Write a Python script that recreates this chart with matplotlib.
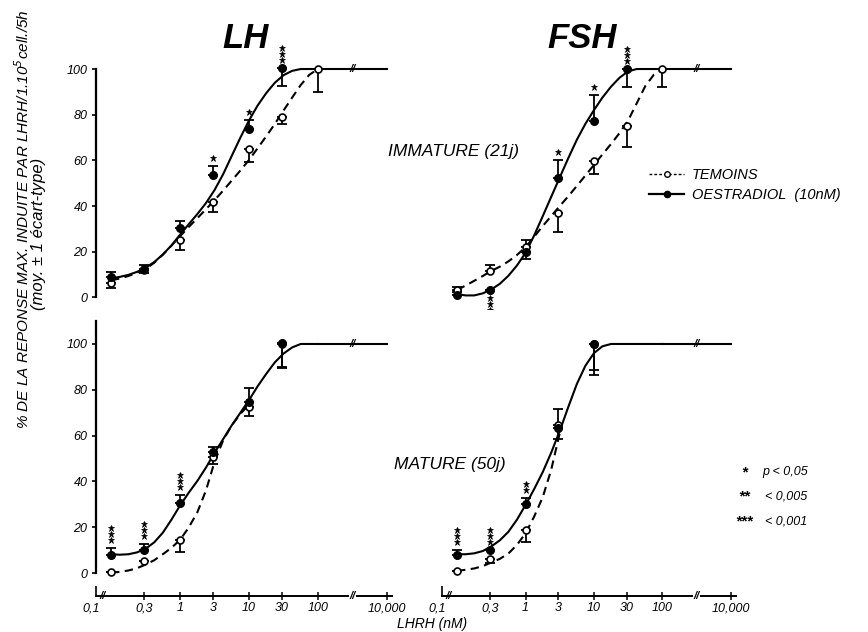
import numpy as np
import matplotlib
matplotlib.use("Agg")
import matplotlib.pyplot as plt
from matplotlib.lines import Line2D
from matplotlib.transforms import offset_copy

plt.rcParams['font.family'] = ['Liberation Sans', 'DejaVu Sans']
plt.rcParams['font.style'] = 'italic'

# ---------------- data ----------------
TICK_X = [0.1, 0.3, 1, 3, 10, 30, 100, 10000]
TICK_LABELS = ["0,1", "0,3", "1", "3", "10", "30", "100", "10,000"]
CURVE_X = [0.1, 0.133, 0.178, 0.237, 0.316, 0.422, 0.562, 0.75, 1, 1.33, 1.78, 2.37,
           3.16, 4.22, 5.62, 7.5, 10, 13.3, 17.8, 23.7, 31.6, 42.2, 56.2, 75, 100]
PLATEAU_X = [100, 10000]
PLATEAU_Y = [100, 100]

# LH immature (21 j)
lh_imm_oe_x = [0.1, 0.3, 1, 3, 10, 30]
lh_imm_oe_y = [8.8, 12.3, 30.4, 53.7, 73.6, 100.5]
lh_imm_oe_lo = [0, 0, 0, 0, 0, 8]
lh_imm_oe_hi = [2.5, 2, 3, 4, 4, 0]
lh_imm_oe_stars = [0, 0, 0, 1, 1, 3]
lh_imm_te_x = [0.1, 0.3, 1, 3, 10, 30, 100]
lh_imm_te_y = [6.5, 12, 25, 42, 65, 79, 100]
lh_imm_te_lo = [2.5, 1.5, 4, 4.5, 5.5, 3, 10]
lh_imm_te_hi = [0, 0, 0, 0, 0, 0, 0]
lh_imm_oe_curve = [8.4, 9.0, 9.9, 11.2, 13.0, 15.5, 18.8, 22.8, 27.5, 32.0, 36.5, 41.3,
                   47, 54, 62, 70, 77.5, 84, 89.5, 94, 97.3, 99.2, 100, 100, 100]
lh_imm_te_curve = [7.5, 8.3, 9.4, 10.8, 12.5, 15.2, 18.7, 22.7, 26.8, 30.8, 34.7, 38.6,
                   42.6, 46.8, 51.2, 55.6, 60.2, 65.3, 70.6, 76, 81.8, 87.5, 93, 97.5, 100]

# FSH immature (21 j)
fsh_imm_oe_x = [0.1, 0.3, 1, 3, 10, 30]
fsh_imm_oe_y = [0.9, 3.3, 20, 52.3, 77.4, 100]
fsh_imm_oe_lo = [0, 0, 3.2, 0, 0, 8]
fsh_imm_oe_hi = [1.5, 0, 0, 8, 11.4, 0]
fsh_imm_oe_stars = [0, -3, 0, 1, 1, 3]
fsh_imm_te_x = [0.1, 0.3, 1, 3, 10, 30, 100]
fsh_imm_te_y = [3.3, 11.4, 22.2, 37.1, 59.6, 75.2, 100]
fsh_imm_te_lo = [0, 0, 0, 8.3, 5.4, 9.2, 8]
fsh_imm_te_hi = [1.5, 2.6, 2.8, 0, 0, 0, 0]
fsh_imm_oe_curve = [1.5, 0.9, 0.9, 1.8, 3.5, 6, 9.5, 14, 19.5, 27, 35.5, 44,
                    52.5, 61, 69, 76, 82, 87.5, 92.3, 96.2, 99, 100, 100, 100, 100]
fsh_imm_te_curve = [3.3, 5.2, 7.3, 9.4, 11.6, 13.5, 15.8, 18.6, 22, 26.5, 31.2, 35.6,
                    40, 44.3, 48.8, 53.4, 58, 62.6, 67.2, 72, 77.5, 85, 92.5, 97.5, 99.8]

# LH mature (50 j)
lh_mat_oe_x = [0.1, 0.3, 1, 3, 10, 30]
lh_mat_oe_y = [7.9, 10, 30.4, 52.7, 74.8, 100.5]
lh_mat_oe_lo = [0, 0, 0, 0, 0, 11]
lh_mat_oe_hi = [3, 2.7, 3.6, 2.5, 6, 0]
lh_mat_oe_stars = [3, 3, 3, 0, 0, 0]
lh_mat_te_x = [0.1, 0.3, 1, 3, 10, 30]
lh_mat_te_y = [0.3, 5.4, 14.4, 50.5, 72.4, 100]
lh_mat_te_lo = [0, 0, 5.4, 3, 3.7, 10]
lh_mat_te_hi = [0, 0, 0, 0, 0, 0]
lh_mat_oe_curve = [8.2, 8.0, 8.2, 9.0, 10.6, 13.4, 17.6, 23.3, 29.5, 35, 40.2, 46,
                   52.5, 58.5, 64.5, 70, 75.5, 81.5, 87, 92, 95.8, 98.5, 100, 100, 100]
lh_mat_te_curve = [0.2, 0.5, 1.1, 2.1, 3.7, 5.6, 8.2, 11, 14.5, 19.8, 26.5, 36,
                   48.5, 58, 64.5, 69.5, 73.5]

# FSH mature (50 j)
fsh_mat_oe_x = [0.1, 0.3, 1, 3, 10]
fsh_mat_oe_y = [7.9, 10, 30, 63.5, 100]
fsh_mat_oe_lo = [0, 0, 0, 5, 13.5]
fsh_mat_oe_hi = [2, 0, 2.6, 0, 0]
fsh_mat_oe_stars = [3, 3, 2, 0, 0]
fsh_mat_te_x = [0.1, 0.3, 1, 3, 10]
fsh_mat_te_y = [1, 6, 19, 64.6, 100]
fsh_mat_te_lo = [0, 1.6, 5.3, 0, 11.4]
fsh_mat_te_hi = [0, 0, 0, 7, 0]
fsh_mat_oe_curve = [8.2, 8.2, 8.6, 9.6, 11.6, 14.3, 18, 23.3, 29.7, 36.5, 44, 52.5,
                    62, 72.5, 82.5, 90.5, 96, 99, 100, 100, 100, 100, 100, 100, 100]
fsh_mat_te_curve = [1, 1.4, 2, 3, 4.6, 6.2, 8.5, 12.3, 17.3, 24.5, 33, 45, 61]


# ---------------- scale: log up to 100, compressed break to 10,000 ----------------
def fwd(x):
    x = np.asarray(x, dtype=float)
    lx = np.log10(np.clip(x, 1e-9, None))
    return np.where(lx <= 2, lx, 2 + (lx - 2) / 2)


def inv(p):
    p = np.asarray(p, dtype=float)
    return np.where(p <= 2, 10 ** p, 10 ** (2 + (p - 2) * 2))


W, H = 868, 632
fig = plt.figure(figsize=(W / 100, H / 100), dpi=100)

XLIM = (0.06, 14000)
left_col = (95.8 / W, (392 - 95.8) / W)
right_col = (441.9 / W, (735.8 - 441.9) / W)
top_row = ((H - 308.9) / H, (308.9 - 41.6) / H, (-5, 112))
bot_row = ((H - 605.1) / H, (605.1 - 316.5) / H, (-14, 112))

LW = 1.5
DASH = (0, (4, 2.6))


def make_ax(col, row):
    ax = fig.add_axes([col[0], row[0], col[1], row[1]])
    ax.set_xscale('function', functions=(fwd, inv))
    ax.set_xlim(*XLIM)
    ax.set_ylim(*row[2])
    ax.patch.set_alpha(0)
    for s in ax.spines.values():
        s.set_visible(False)
    ax.set_xticks([])
    ax.set_yticks([])
    return ax


def draw_panel(ax, oe_x, oe_y, oe_lo, oe_hi, oe_stars, te_x, te_y, te_lo, te_hi,
               oe_curve, te_curve):
    ax.plot(CURVE_X[:len(oe_curve)], oe_curve, color='black', lw=LW, zorder=2,
            solid_joinstyle='round')
    ax.plot(CURVE_X[:len(te_curve)], te_curve, color='black', lw=LW, ls=DASH, zorder=2)
    ax.plot(PLATEAU_X, PLATEAU_Y, color='black', lw=LW, zorder=2)
    ax.text(1000, 100, '//', ha='center', va='center', fontsize=8, fontweight='bold',
            zorder=4)
    ax.errorbar(oe_x, oe_y, yerr=[oe_lo, oe_hi], fmt='none', ecolor='black',
                elinewidth=1.3, capsize=3.5, capthick=1.3, zorder=3)
    ax.errorbar(te_x, te_y, yerr=[te_lo, te_hi], fmt='none', ecolor='black',
                elinewidth=1.3, capsize=3.5, capthick=1.3, zorder=3)
    ax.plot(te_x, te_y, 'o', ms=5, mfc='white', mec='black', mew=1.2, zorder=5)
    ax.plot(oe_x, oe_y, 'o', ms=5.5, mfc='black', mec='black', zorder=6)
    for x, y, hi, lo, n in zip(oe_x, oe_y, oe_hi, oe_lo, oe_stars):
        if n > 0:
            ys = [y + hi + 3.5 + 2.6 * k for k in range(n)]
        elif n < 0:
            ys = [y - lo - 3.5 - 2.6 * k for k in range(-n)]
        else:
            continue
        ax.plot([x] * len(ys), ys, '*', ms=4.5, color='black', mec='black', mew=0.5,
                ls='none', zorder=6)


def style_y(ax, top):
    ax.spines['left'].set_visible(True)
    ax.spines['left'].set_linewidth(1.6)
    ax.spines['left'].set_bounds(0, top)
    ax.set_yticks([0, 20, 40, 60, 80, 100])
    ax.set_yticklabels(['0', '20', '40', '60', '80', '100'], fontsize=9, style='italic')
    ax.tick_params(axis='y', direction='out', length=3, width=1.2, pad=3)


def style_x(ax):
    ax.spines['bottom'].set_visible(True)
    ax.spines['bottom'].set_position(('data', -10))
    ax.spines['bottom'].set_linewidth(1.4)
    ax.set_xticks(TICK_X)
    ax.set_xticklabels(TICK_LABELS, fontsize=9, style='italic')
    ax.tick_params(axis='x', direction='inout', length=6, width=1.1, pad=1.5)
    ax.set_xticks([XLIM[0]], minor=True)
    ax.tick_params(axis='x', which='minor', direction='in', length=7, width=1.2)
    ticks = ax.xaxis.get_major_ticks()
    ticks[0].tick1line.set_markersize(0)
    lab = ticks[0].label1
    lab.set_transform(offset_copy(lab.get_transform(), fig=fig, x=-20, y=0, units='dots'))
    ax.text(0.075, -10, '//', ha='center', va='center', fontsize=8, fontweight='bold')
    ax.text(1000, -10, '//', ha='center', va='center', fontsize=8, fontweight='bold',
            bbox=dict(facecolor='white', edgecolor='none', pad=0.3))


ax1 = make_ax(left_col, top_row)
draw_panel(ax1, lh_imm_oe_x, lh_imm_oe_y, lh_imm_oe_lo, lh_imm_oe_hi, lh_imm_oe_stars,
           lh_imm_te_x, lh_imm_te_y, lh_imm_te_lo, lh_imm_te_hi,
           lh_imm_oe_curve, lh_imm_te_curve)
style_y(ax1, 100)

ax2 = make_ax(right_col, top_row)
draw_panel(ax2, fsh_imm_oe_x, fsh_imm_oe_y, fsh_imm_oe_lo, fsh_imm_oe_hi, fsh_imm_oe_stars,
           fsh_imm_te_x, fsh_imm_te_y, fsh_imm_te_lo, fsh_imm_te_hi,
           fsh_imm_oe_curve, fsh_imm_te_curve)

ax3 = make_ax(left_col, bot_row)
draw_panel(ax3, lh_mat_oe_x, lh_mat_oe_y, lh_mat_oe_lo, lh_mat_oe_hi, lh_mat_oe_stars,
           lh_mat_te_x, lh_mat_te_y, lh_mat_te_lo, lh_mat_te_hi,
           lh_mat_oe_curve, lh_mat_te_curve)
style_y(ax3, 110)
style_x(ax3)

ax4 = make_ax(right_col, bot_row)
draw_panel(ax4, fsh_mat_oe_x, fsh_mat_oe_y, fsh_mat_oe_lo, fsh_mat_oe_hi, fsh_mat_oe_stars,
           fsh_mat_te_x, fsh_mat_te_y, fsh_mat_te_lo, fsh_mat_te_hi,
           fsh_mat_oe_curve, fsh_mat_te_curve)
style_x(ax4)


# ---------------- texts ----------------
def fx(px):
    return px / W


def fy(py):
    return 1 - py / H


fig.text(fx(246), fy(38), 'LH', ha='center', va='center', fontsize=25,
         fontweight='bold', style='italic')
fig.text(fx(582), fy(38), 'FSH', ha='center', va='center', fontsize=25,
         fontweight='bold', style='italic')
fig.text(fx(454), fy(152), 'IMMATURE (21j)', ha='center', va='center', fontsize=12.5,
         style='italic')
fig.text(fx(450), fy(465), 'MATURE (50j)', ha='center', va='center', fontsize=12.5,
         style='italic')

fig.text(fx(23), fy(219), '% DE LA REPONSE MAX. INDUITE PAR LHRH/1.10$^{5}$cell./5h',
         rotation=90, ha='center', va='center', fontsize=11, style='italic')
fig.text(fx(39), fy(234), '(moy. ± 1 écart-type)', rotation=90, ha='center',
         va='center', fontsize=12, style='italic')
fig.text(fx(432), fy(624), 'LHRH (nM)', ha='center', va='center', fontsize=10,
         style='italic')

# legend
handles = [Line2D([], [], color='black', lw=1.0, ls=(0, (2, 1.5)), marker='o', ms=4,
                  mfc='white', mec='black'),
           Line2D([], [], color='black', lw=1.6, marker='o', ms=4.5, mfc='black',
                  mec='black')]
fig.legend(handles, ['TEMOINS', 'OESTRADIOL  (10nM)'], loc='center left',
           bbox_to_anchor=(fx(642), fy(185)), frameon=False, fontsize=10.5,
           handlelength=2.4, handletextpad=0.5, labelspacing=0.45, borderpad=0)

# significance key
SIG_STARS = ['*', '**', '***']
SIG_TEXT = ['p < 0,05', '< 0,005', '< 0,001']
for i, (s, t) in enumerate(zip(SIG_STARS, SIG_TEXT)):
    y = fy(472 + 24.5 * i)
    fig.text(fx(744), y, s, ha='center', va='center', fontsize=11, fontweight='bold')
    fig.text(fx(762) if i == 0 else fx(765), y, t, ha='left', va='center', fontsize=9,
             style='italic')

fig.savefig('out.png', dpi=100)
